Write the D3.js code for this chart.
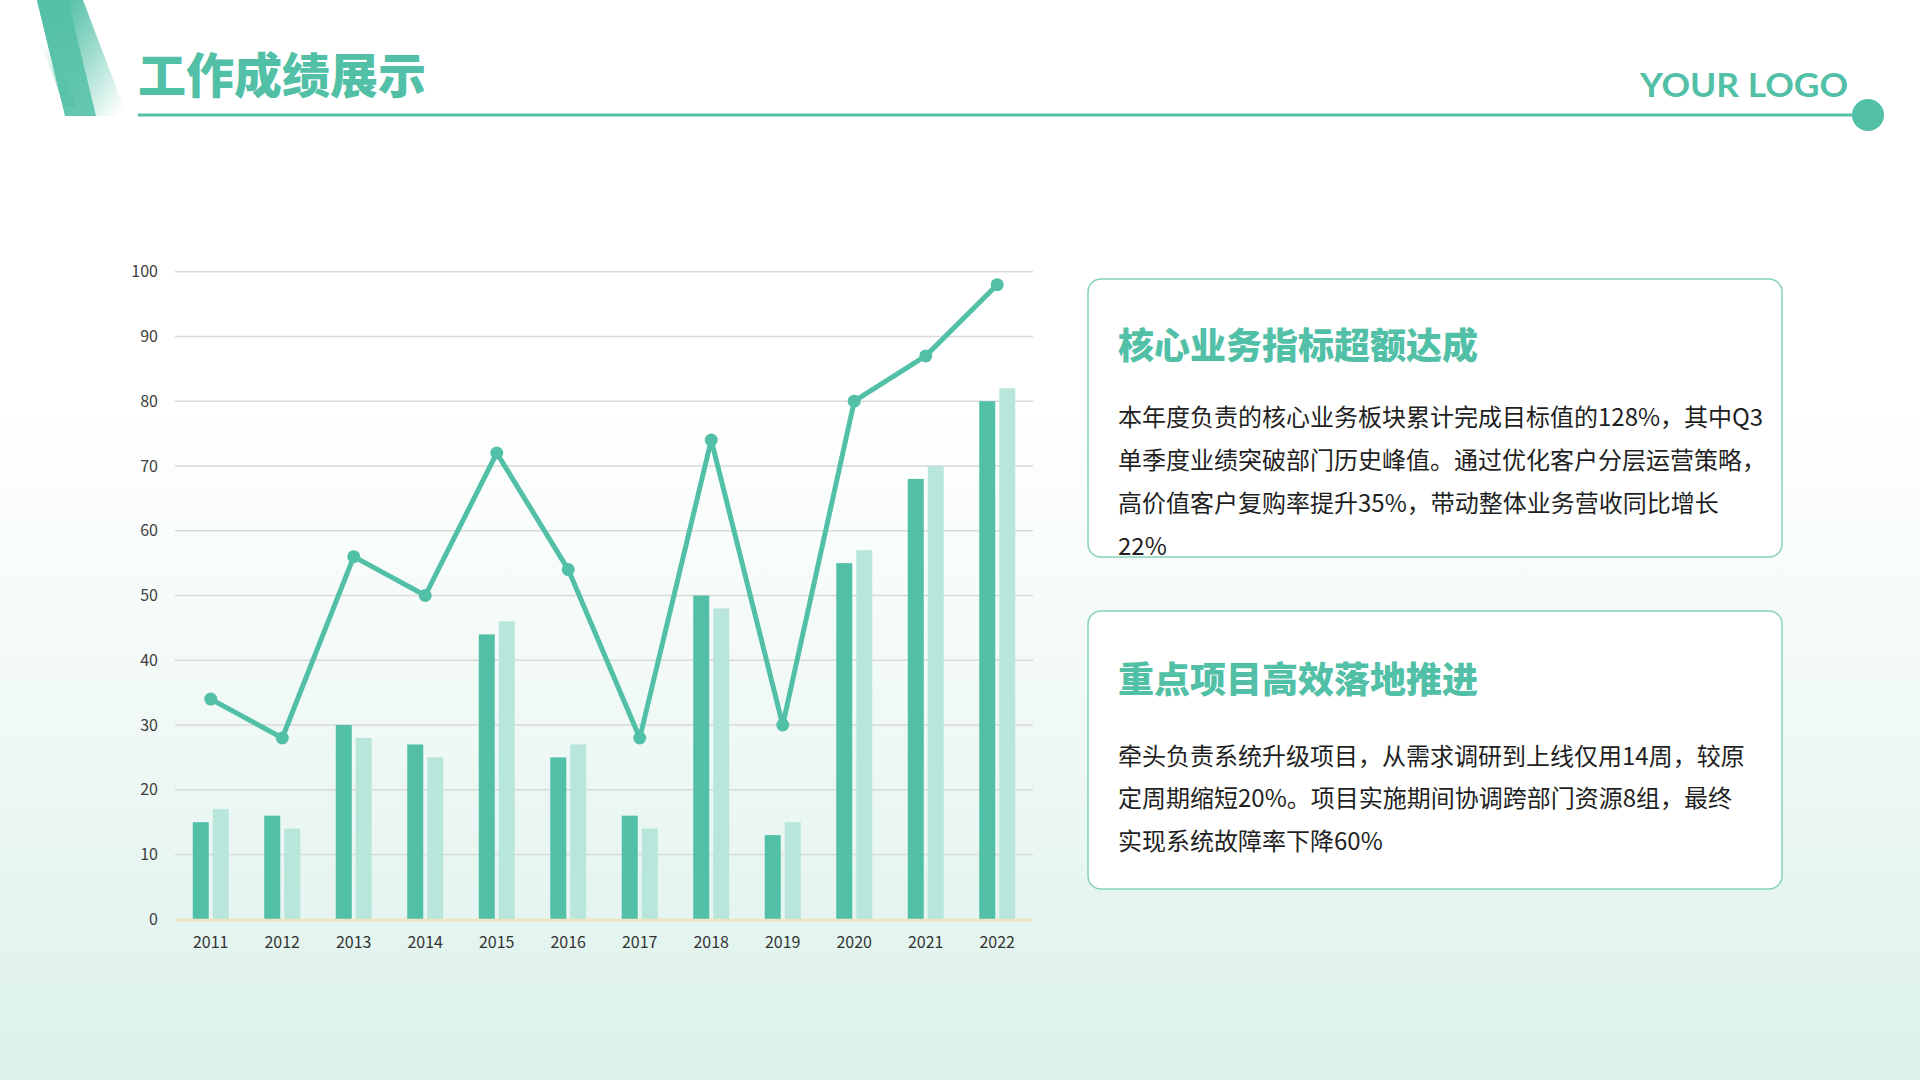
<!DOCTYPE html>
<html>
<head>
<meta charset="utf-8">
<script src="https://cdn.jsdelivr.net/npm/d3@7/dist/d3.min.js"></script>
<style>
  html, body { margin: 0; padding: 0; width: 1920px; height: 1080px; overflow: hidden; background: #fff; }
  svg { display: block; }
</style>
</head>
<body>
<svg id="chart" width="1920" height="1080"></svg>
<script>
// ---- data ----
const years = ['2011','2012','2013','2014','2015','2016','2017','2018','2019','2020','2021','2022'];
const seriesA = [15, 16, 30, 27, 44, 25, 16, 50, 13, 55, 68, 80];
const seriesB = [17, 14, 28, 25, 46, 27, 14, 48, 15, 57, 70, 82];
const lineValues = [34, 28, 56, 50, 72, 54, 28, 74, 30, 80, 87, 98];
const yTicks = [0, 10, 20, 30, 40, 50, 60, 70, 80, 90, 100];

const pageTitle = '工作成绩展示';
const logoText = 'YOUR LOGO';
const card1Title = '核心业务指标超额达成';
const card1Lines = [
  '本年度负责的核心业务板块累计完成目标值的128%，其中Q3',
  '单季度业绩突破部门历史峰值。通过优化客户分层运营策略，',
  '高价值客户复购率提升35%，带动整体业务营收同比增长',
  '22%'
];
const card2Title = '重点项目高效落地推进';
const card2Lines = [
  '牵头负责系统升级项目，从需求调研到上线仅用14周，较原',
  '定周期缩短20%。项目实施期间协调跨部门资源8组，最终',
  '实现系统故障率下降60%'
];

// ---- styles ----
const TEAL = '#52c0a6';
const TEAL_LIGHT = '#b9e6db';
const CJK = '"Noto Sans CJK SC", "Noto Sans", sans-serif';

const svg = d3.select('#chart');
const defs = svg.append('defs');

// background gradient
const bg = defs.append('linearGradient').attr('id', 'bg').attr('x1', 0).attr('y1', 0).attr('x2', 0).attr('y2', 1);
bg.append('stop').attr('offset', '0').attr('stop-color', '#ffffff');
bg.append('stop').attr('offset', '0.38').attr('stop-color', '#ffffff');
bg.append('stop').attr('offset', '0.7').attr('stop-color', '#eef8f5');
bg.append('stop').attr('offset', '1').attr('stop-color', '#dcf1eb');
svg.append('rect').attr('width', 1920).attr('height', 1080).attr('fill', 'url(#bg)');

// decorative stripes
const g1 = defs.append('linearGradient').attr('id', 'dec1').attr('x1', 0.2).attr('y1', 0.2).attr('x2', 0.95).attr('y2', 0.95);
g1.append('stop').attr('offset', '0').attr('stop-color', TEAL).attr('stop-opacity', 0.95);
g1.append('stop').attr('offset', '0.45').attr('stop-color', TEAL).attr('stop-opacity', 0.55);
g1.append('stop').attr('offset', '1').attr('stop-color', TEAL).attr('stop-opacity', 0);
const g2 = defs.append('linearGradient').attr('id', 'dec2').attr('x1', 0).attr('y1', 0).attr('x2', 0).attr('y2', 1);
g2.append('stop').attr('offset', '0').attr('stop-color', '#52c0a6');
g2.append('stop').attr('offset', '1').attr('stop-color', '#5cc4ab');
const g3 = defs.append('linearGradient').attr('id', 'dec3').attr('x1', 0).attr('y1', 0).attr('x2', 0).attr('y2', 1);
g3.append('stop').attr('offset', '0').attr('stop-color', TEAL).attr('stop-opacity', 0);
g3.append('stop').attr('offset', '1').attr('stop-color', TEAL).attr('stop-opacity', 0.6);

svg.append('polygon').attr('points', '37,0 83,0 127,116 65,116').attr('fill', 'url(#dec1)');
svg.append('polygon').attr('points', '37,0 68,0 96,116 65,116').attr('fill', 'url(#dec2)').attr('opacity', 0.92);
svg.append('polygon').attr('points', '42,46 54,46 76,106 64,106').attr('fill', 'url(#dec3)');

// header
svg.append('text').attr('x', 138).attr('y', 72).attr('dominant-baseline', 'central')
  .attr('font-family', CJK).attr('font-weight', 900).attr('font-size', 48).attr('fill', TEAL)
  .text(pageTitle);
svg.append('line').attr('x1', 138).attr('x2', 1868).attr('y1', 115).attr('y2', 115)
  .attr('stroke', TEAL).attr('stroke-width', 3);
svg.append('circle').attr('cx', 1868).attr('cy', 115).attr('r', 16).attr('fill', TEAL);
svg.append('text').attr('x', 1640).attr('y', 97)
  .attr('font-family', 'Lato, "Open Sans", sans-serif').attr('font-weight', 700).attr('font-size', 33)
  .attr('fill', TEAL).attr('textLength', 208).attr('lengthAdjust', 'spacingAndGlyphs')
  .text(logoText);

// ---- chart ----
const x = d3.scaleBand().domain(years).range([175, 1033]).padding(0);
const y = d3.scaleLinear().domain([0, 100]).range([919.3, 271.7]);
const barW = 16, gap = 4;

const gChart = svg.append('g');
// grid
gChart.selectAll('line.grid').data(yTicks.filter(t => t > 0)).join('line')
  .attr('class', 'grid')
  .attr('x1', 175).attr('x2', 1033)
  .attr('y1', d => y(d)).attr('y2', d => y(d))
  .attr('stroke', '#d9d9d9').attr('stroke-width', 1.5);

// y axis labels
const yAxis = d3.axisLeft(y).tickValues(yTicks).tickSize(0).tickPadding(0);
const gy = gChart.append('g').attr('transform', 'translate(158,0)').call(yAxis);
gy.select('.domain').remove();
gy.selectAll('text').attr('font-family', CJK).attr('font-size', 16).attr('fill', '#404040');

// x axis labels
const xAxis = d3.axisBottom(x).tickSize(0).tickPadding(0);
const gx = gChart.append('g').attr('transform', 'translate(0,937)').call(xAxis);
gx.select('.domain').remove();
gx.selectAll('text').attr('font-family', CJK).attr('font-size', 16).attr('fill', '#333333');

// bars
gChart.selectAll('rect.a').data(years).join('rect')
  .attr('class', 'a')
  .attr('x', d => x(d) + x.bandwidth() / 2 - gap / 2 - barW)
  .attr('y', (d, i) => y(seriesA[i]))
  .attr('width', barW)
  .attr('height', (d, i) => y(0) - y(seriesA[i]))
  .attr('fill', TEAL);
gChart.selectAll('rect.b').data(years).join('rect')
  .attr('class', 'b')
  .attr('x', d => x(d) + x.bandwidth() / 2 + gap / 2)
  .attr('y', (d, i) => y(seriesB[i]))
  .attr('width', barW)
  .attr('height', (d, i) => y(0) - y(seriesB[i]))
  .attr('fill', TEAL_LIGHT);

// baseline
gChart.append('line').attr('x1', 175).attr('x2', 1033).attr('y1', y(0) + 1).attr('y2', y(0) + 1)
  .attr('stroke', '#efe3c3').attr('stroke-width', 3);

// line
const pts = years.map((d, i) => [x(d) + x.bandwidth() / 2, y(lineValues[i])]);
gChart.append('path').attr('d', d3.line()(pts))
  .attr('fill', 'none').attr('stroke', TEAL).attr('stroke-width', 5).attr('stroke-linejoin', 'round');
gChart.selectAll('circle.pt').data(pts).join('circle')
  .attr('class', 'pt').attr('cx', d => d[0]).attr('cy', d => d[1]).attr('r', 6.5).attr('fill', TEAL);

// ---- cards ----
function card(top, h, title, lines, titleY, bodyY) {
  svg.append('rect').attr('x', 1088).attr('y', top).attr('width', 694).attr('height', h)
    .attr('rx', 13).attr('fill', '#ffffff').attr('stroke', '#86d2bf').attr('stroke-width', 1.5);
  svg.append('text').attr('x', 1118).attr('y', titleY).attr('dominant-baseline', 'central')
    .attr('font-family', CJK).attr('font-weight', 900).attr('font-size', 36).attr('fill', TEAL)
    .text(title);
  svg.append('g').selectAll('text').data(lines).join('text')
    .attr('x', 1118).attr('y', (d, i) => bodyY + i * 42.9).attr('dominant-baseline', 'central')
    .attr('font-family', CJK).attr('font-size', 24).attr('fill', '#1f1f1f')
    .text(d => d);
}
card(279, 278, card1Title, card1Lines, 343, 415.5);
card(611, 278, card2Title, card2Lines, 676.5, 754);
</script>
</body>
</html>
